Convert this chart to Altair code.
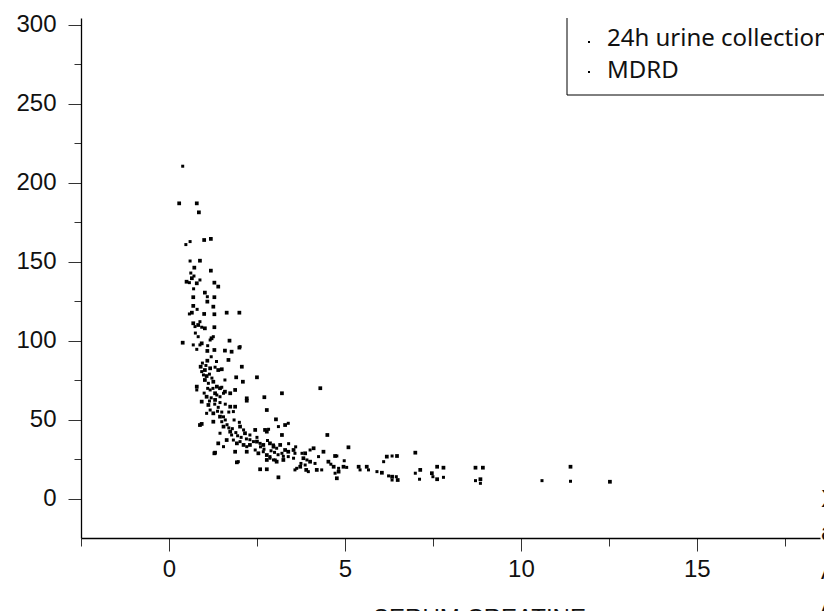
import altair as alt
import pandas as pd

series_names = ["24h urine collection", "MDRD"]

urine_points = [
    (0.29, 187.1), (0.79, 187.1), (0.85, 181.4), (1.00, 163.9), (1.19, 164.6), (0.88, 150.8),
    (0.72, 146.4), (1.19, 144.5), (0.50, 137.5), (0.65, 139.7), (0.79, 136.5), (1.29, 136.9),
    (1.40, 134.4), (0.69, 127.7), (1.02, 130.6), (1.29, 127.7), (1.09, 124.9), (1.26, 121.7),
    (0.69, 122.2), (0.65, 117.9), (1.00, 117.1), (1.29, 116.9), (1.64, 117.9), (2.00, 117.9),
    (0.69, 111.2), (0.83, 110.1), (1.02, 108.0), (1.29, 108.7), (0.39, 98.9), (1.21, 101.7),
    (0.93, 98.5), (1.09, 93.7), (1.29, 94.3), (1.72, 100.2), (1.59, 93.9), (1.78, 93.2),
    (2.00, 95.8), (1.09, 87.5), (1.69, 88.0), (2.07, 83.7), (0.90, 83.7), (1.02, 81.6),
    (1.17, 82.7), (1.40, 81.6), (1.50, 82.1), (1.07, 77.8), (1.91, 77.0), (2.10, 74.2),
    (2.50, 77.0), (0.79, 71.1), (1.02, 75.3), (1.26, 74.2), (1.36, 71.1), (1.59, 67.9),
    (1.31, 66.9), (1.07, 64.7), (1.74, 66.9), (1.88, 69.0), (2.21, 63.7), (0.93, 61.6),
    (1.12, 59.5), (1.26, 54.2), (1.31, 62.7), (1.45, 70.1), (1.74, 58.4), (1.88, 58.4),
    (2.21, 62.2), (2.71, 64.4), (3.21, 66.9), (2.78, 56.3), (0.93, 47.5), (1.26, 48.9),
    (1.45, 52.1), (1.55, 45.8), (1.74, 42.6), (2.02, 45.8), (2.16, 41.6), (2.45, 43.7),
    (2.78, 42.6), (3.04, 50.4), (3.30, 46.8), (1.40, 35.2), (1.64, 37.3), (1.93, 35.2),
    (2.12, 34.2), (2.30, 34.2), (2.50, 36.3), (2.68, 34.2), (1.31, 29.3), (1.88, 29.9),
    (2.21, 29.9), (2.54, 28.9), (2.78, 27.8), (2.97, 33.1), (2.87, 35.2), (3.16, 34.2),
    (3.30, 31.0), (2.78, 24.7), (3.06, 23.6), (3.39, 29.9), (2.59, 18.8), (2.78, 18.8),
    (3.11, 13.7), (4.30, 70.1), (2.73, 43.7), (3.21, 40.5), (4.50, 40.5), (3.54, 31.0),
    (3.87, 28.9), (4.11, 32.1), (4.39, 29.9), (4.72, 27.2), (5.10, 32.7), (3.82, 25.8),
    (4.01, 23.6), (3.25, 24.7), (4.53, 23.6), (3.73, 20.4), (3.90, 18.4), (4.20, 18.4),
    (4.68, 20.4), (4.96, 20.4), (4.82, 17.3), (5.39, 20.4), (5.62, 20.4), (4.77, 13.1),
    (6.05, 16.6), (6.19, 26.8), (6.48, 27.2), (6.34, 14.1), (7.00, 29.3), (6.50, 12.0),
    (7.14, 18.4), (7.47, 16.3), (7.62, 20.4), (7.80, 19.8), (7.62, 12.5), (8.71, 19.8),
    (8.92, 19.8), (8.85, 12.5), (11.41, 20.4), (12.53, 10.9), (0.88, 46.8), (1.29, 28.9),
    (1.93, 23.2),
]

mdrd_points = [
    (0.39, 210.6), (0.48, 161.0), (0.60, 162.9), (0.60, 150.6), (0.58, 136.9), (0.71, 141.1),
    (0.88, 138.6), (1.09, 128.0), (0.58, 117.1), (0.74, 109.1), (0.93, 108.7), (0.88, 112.2),
    (0.83, 102.7), (1.17, 100.6), (0.69, 97.5), (0.79, 94.7), (0.88, 97.5), (0.93, 80.6),
    (1.31, 83.4), (0.98, 78.5), (0.79, 69.0), (1.12, 73.2), (1.50, 70.7), (1.17, 69.0),
    (1.45, 64.7), (1.59, 75.3), (1.17, 56.3), (1.07, 54.2), (1.36, 65.8), (1.55, 66.9),
    (1.83, 55.3), (1.50, 48.9), (1.45, 41.6), (1.78, 40.5), (2.12, 43.7), (3.39, 47.9),
    (3.11, 45.8), (1.55, 33.1), (1.83, 37.3), (2.02, 36.3), (2.21, 33.1), (2.40, 36.3),
    (2.59, 35.2), (2.45, 31.0), (2.68, 29.9), (2.87, 26.8), (3.06, 32.1), (2.97, 34.2),
    (3.21, 28.9), (2.97, 24.7), (3.39, 26.8), (1.97, 23.6), (2.83, 44.1), (3.58, 28.9),
    (3.78, 28.9), (4.01, 31.0), (4.25, 26.8), (3.92, 24.7), (3.54, 25.8), (3.02, 24.7),
    (2.87, 25.8), (4.98, 24.2), (3.63, 19.4), (3.87, 21.5), (3.96, 17.3), (4.34, 18.4),
    (4.82, 19.4), (5.05, 20.0), (4.72, 16.3), (5.43, 18.4), (5.67, 18.4), (5.91, 17.3),
    (6.10, 23.6), (6.34, 27.2), (6.24, 14.6), (6.46, 14.1), (6.34, 12.0), (7.00, 16.3),
    (7.12, 12.5), (7.50, 14.1), (7.80, 13.7), (8.71, 11.6), (8.85, 9.9), (10.60, 11.6),
    (11.41, 11.2), (3.58, 18.4), (1.26, 102.7), (2.02, 96.4), (4.77, 27.2),
    (0.95, 86.0), (1.05, 84.5), (1.15, 79.0), (1.22, 76.5), (1.10, 70.0), (1.20, 64.0),
    (1.30, 60.0), (1.40, 58.0), (1.38, 55.5), (1.50, 55.0), (1.55, 52.0), (1.60, 50.0),
    (1.65, 47.0), (1.70, 45.0), (1.80, 44.5), (1.90, 42.0), (1.95, 40.0), (2.05, 39.0),
    (2.20, 38.0), (2.30, 37.5), (2.60, 33.0), (2.70, 31.5), (2.90, 30.5), (3.00, 29.5),
    (3.10, 28.0), (3.25, 27.0), (1.20, 90.0), (1.10, 97.0), (0.75, 105.0), (0.80, 120.0),
    (0.70, 133.0), (0.62, 143.0), (1.35, 87.0), (1.25, 70.0), (1.00, 67.0), (1.15, 62.0),
    (1.45, 61.0), (1.60, 60.0), (1.70, 55.0), (1.85, 50.0), (2.00, 48.5), (2.30, 40.5),
    (2.50, 39.0), (2.80, 37.0), (3.40, 35.0), (3.60, 33.0), (3.75, 22.5), (4.15, 22.5),
    (4.60, 22.0),
]

x_tick_values = [-2.5, 0, 2.5, 5, 7.5, 10, 12.5, 15, 17.5]
y_tick_values = [0, 25, 50, 75, 100, 125, 150, 175, 200, 225, 250, 275, 300]
x_title = "SERUM CREATINE"
side_labels = ["X", "a", "A", "A"]

rows = []
for name, pts in zip(series_names, [urine_points, mdrd_points]):
    for x, y in pts:
        rows.append({"creat": x, "gfr": y, "series": name})
df = pd.DataFrame(rows)

FONT = "Liberation Sans"
LEGEND_FONT = "Noto Sans"
W, H = 739, 520

x_axis = alt.Axis(
    values=x_tick_values,
    labelExpr="datum.value % 5 === 0 ? datum.label : ''",
    tickSize={"condition": {"test": "datum.value % 5 !== 0", "value": 8}, "value": 13},
    tickColor="#333", domainColor="#000", domainWidth=1.3, tickWidth=1,
    labelFont=FONT, labelFontSize=24, labelColor="#111", labelPadding=6,
    grid=False, title=x_title, titleFont=FONT, titleFontSize=24, titleFontWeight="normal",
    titleColor="#111", titleX=398, titleY=87, titleAlign="center", titleBaseline="alphabetic",
    titleAnchor="start",
)
y_axis = alt.Axis(
    values=y_tick_values,
    labelExpr="datum.value % 50 === 0 ? datum.label : ''",
    tickSize={"condition": {"test": "datum.value % 50 !== 0", "value": 7}, "value": 13},
    tickColor="#333", domainColor="#000", domainWidth=1.3, tickWidth=1,
    labelFont=FONT, labelFontSize=24, labelColor="#111", labelPadding=12,
    grid=False, title=None,
)

points = alt.Chart(df).mark_point(shape="square", filled=True, opacity=1).encode(
    x=alt.X("creat:Q", scale=alt.Scale(domain=[-2.5, 18.5], nice=False, zero=False), axis=x_axis),
    y=alt.Y("gfr:Q", scale=alt.Scale(domain=[-24.7, 304.4], nice=False, zero=False), axis=y_axis),
    color=alt.Color("series:N", scale=alt.Scale(domain=series_names, range=["#000", "#000"]), legend=None),
    size=alt.Size("series:N", scale=alt.Scale(domain=series_names, range=[14, 9]), legend=None),
)

one = pd.DataFrame({"k": [0]})
layers = [points]

# legend box borders (left + bottom)
layers.append(alt.Chart(one).mark_rule(color="#000", strokeWidth=1).encode(
    x=alt.value(486), y=alt.value(0), y2=alt.value(77)))
layers.append(alt.Chart(one).mark_rule(color="#000", strokeWidth=1).encode(
    x=alt.value(486), x2=alt.value(760), y=alt.value(77)))

legend_y = [28, 60]
symbol_y = [24, 54]
for lab, ty, sy in zip(series_names, legend_y, symbol_y):
    layers.append(alt.Chart(pd.DataFrame({"t": [lab]})).mark_text(
        font=LEGEND_FONT, fontSize=24, align="left", baseline="alphabetic", color="#111").encode(
        text="t:N", x=alt.value(526), y=alt.value(ty)))
    layers.append(alt.Chart(one).mark_point(shape="square", filled=True, size=4, color="#000", opacity=1).encode(
        x=alt.value(508), y=alt.value(sy)))

side_y = [489, 522, 561, 595]
for lab, ty in zip(side_labels, side_y):
    layers.append(alt.Chart(pd.DataFrame({"t": [lab]})).mark_text(
        font=FONT, fontSize=24, align="left", baseline="alphabetic", color="#111").encode(
        text="t:N", x=alt.value(740), y=alt.value(ty)))

chart = alt.layer(*layers).properties(
    width=W, height=H,
    autosize=alt.AutoSizeParams(type="none"),
    padding={"left": 81, "top": 18, "right": 4, "bottom": 73},
    background="white",
).configure_view(stroke=None)

chart.save("out.html", embed_options={"renderer": "svg", "actions": False})
